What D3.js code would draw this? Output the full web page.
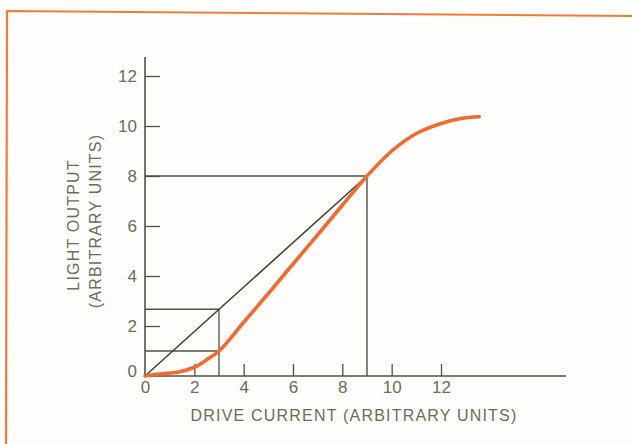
<!DOCTYPE html>
<html><head><meta charset="utf-8">
<script src="https://cdn.jsdelivr.net/npm/d3@7"></script>
<style>
html,body{margin:0;padding:0;background:#fdfdfb;}
svg{display:block;}
text{font-family:"Liberation Sans",Arial,sans-serif;fill:#6a6d58;}
</style></head>
<body>
<script>
const xTicks = [0, 2, 4, 6, 8, 10, 12];
const yTicks = [0, 2, 4, 6, 8, 10, 12];
const curveX = [0, 0.6, 1.4, 2, 2.5, 3, 4, 5, 6, 7, 8, 9, 10, 11, 12, 12.8, 13.55];
const curveY = [0, 0.08, 0.17, 0.35, 0.65, 1.0, 2.15, 3.3, 4.48, 5.65, 6.83, 8.0, 9.0, 9.7, 10.1, 10.3, 10.37];
const lowX = [3], lowY = [1], lowLineY = [2.67];
const highX = [9], highY = [8];
const xLabel = "DRIVE CURRENT (ARBITRARY UNITS)";
const yLabel1 = "LIGHT OUTPUT";
const yLabel2 = "(ARBITRARY UNITS)";

const W = 632, H = 444;
const svg = d3.select("body").append("svg").attr("width", W).attr("height", H);
svg.append("rect").attr("width", W).attr("height", H).attr("fill", "#fdfdfb");

// frame
svg.append("path").attr("d", "M6,444 L7,11 L632,16")
  .attr("fill", "none").attr("stroke", "#f47a3c").attr("stroke-width", 2.2);

const x = d3.scaleLinear().domain([0, 12]).range([145, 441]);
const y = d3.scaleLinear().domain([0, 12]).range([376, 76]);
const axisColor = "#4f5340";
const textColor = "#6a6d58";

// axis lines
svg.append("line").attr("x1", x(0)).attr("x2", 566).attr("y1", y(0)).attr("y2", y(0))
  .attr("stroke", axisColor).attr("stroke-width", 1.6);
svg.append("line").attr("x1", x(0)).attr("x2", x(0)).attr("y1", y(0)).attr("y2", 57)
  .attr("stroke", axisColor).attr("stroke-width", 1.6);

const gy = svg.append("g").attr("transform", `translate(${x(0)},0)`)
  .call(d3.axisLeft(y).tickValues(yTicks).tickSizeInner(-15).tickSizeOuter(0).tickPadding(8));
gy.attr("font-size", 17).attr("font-family", "Liberation Sans, Arial, sans-serif");
gy.select(".domain").remove();
gy.selectAll(".tick line").attr("stroke", axisColor).attr("stroke-width", 1.3)
  .filter(d => d === 0).remove();
gy.selectAll(".tick text").style("font-size", "17px").attr("fill", textColor)
  .attr("dy", d => d === 0 ? "0.05em" : "0.32em");

const gx = svg.append("g").attr("transform", `translate(0,${y(0)})`)
  .call(d3.axisBottom(x).tickValues(xTicks).tickSizeInner(-12).tickSizeOuter(0).tickPadding(5));
gx.attr("font-size", 17).attr("font-family", "Liberation Sans, Arial, sans-serif");
gx.select(".domain").remove();
gx.selectAll(".tick line").attr("stroke", axisColor).attr("stroke-width", 1.3)
  .filter(d => d === 0).remove();
gx.selectAll(".tick text").style("font-size", "17px").attr("fill", textColor);

// guide lines
const guide = "#4f5340";
function seg(x1, y1, x2, y2, c, w) {
  svg.append("line").attr("x1", x(x1)).attr("y1", y(y1)).attr("x2", x(x2)).attr("y2", y(y2))
    .attr("stroke", c).attr("stroke-width", w);
}
seg(0, highY[0], highX[0], highY[0], guide, 1.4);
seg(highX[0], 0, highX[0], highY[0], guide, 1.4);
seg(0, lowLineY[0], lowX[0], lowLineY[0], guide, 1.3);
seg(0, lowY[0], lowX[0], lowY[0], guide, 1.3);
seg(lowX[0], 0, lowX[0], lowLineY[0], guide, 1.3);
seg(0, 0, highX[0], highY[0], "#3b4a2c", 1.6);

// curve
const pts = curveX.map((v, i) => [v, curveY[i]]);
svg.append("path").datum(pts)
  .attr("d", d3.line().x(d => x(d[0])).y(d => y(d[1])).curve(d3.curveCatmullRom.alpha(0.5)))
  .attr("fill", "none").attr("stroke", "#f26a2e").attr("stroke-width", 3.6)
  .attr("stroke-linecap", "round");

// labels
svg.append("text").attr("x", 354).attr("y", 421).attr("text-anchor", "middle")
  .attr("font-size", 16).attr("letter-spacing", 1.2).text(xLabel);
svg.append("text").attr("transform", "translate(79,225) rotate(-90)").attr("text-anchor", "middle")
  .attr("font-size", 16).attr("letter-spacing", 1.2).text(yLabel1);
svg.append("text").attr("transform", "translate(101,221) rotate(-90)").attr("text-anchor", "middle")
  .attr("font-size", 16).attr("letter-spacing", 1.2).text(yLabel2);
</script>
</body></html>
